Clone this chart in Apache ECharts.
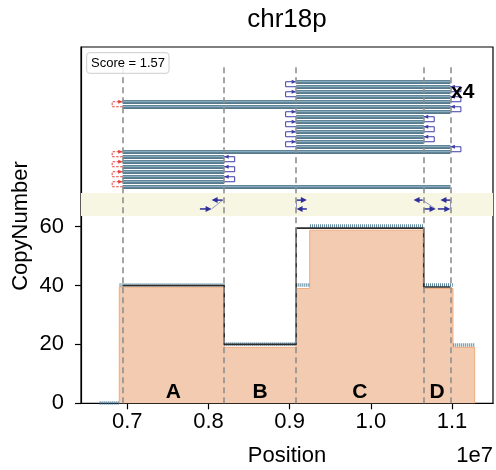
<!DOCTYPE html>
<html><head><meta charset="utf-8">
<script src="https://cdn.jsdelivr.net/npm/echarts@6/dist/echarts.min.js"></script>
<style>html,body{margin:0;padding:0;background:#fff}#c{width:496px;height:470px}</style>
</head><body><div id="c"></div>
<script>
// ---------------- data ----------------
const xTicks = [7e6, 8e6, 9e6, 10e6, 11e6];
const yTicks = [0, 20, 40, 60];
const breakpoints = [6.9434e6, 8.1938e6, 9.080e6, 10.6517e6, 10.980e6];
const regionNames = ['A', 'B', 'C', 'D'];
const modelCN = [40, 20, 59.5, 39.5];
// observed depth (orange fill) segment boundaries and levels
const depthEdges = [6.9015e6, 8.1938e6, 9.080e6, 9.247e6, 10.6517e6, 11.012e6, 11.279e6];
const depthLevels = [39.5, 19, 39, 58.8, 39, 19];
// scattered read-depth points (dense dots) as runs
const dotRunStart = [6.66e6, 6.905e6, 8.195e6, 9.082e6, 9.250e6, 10.655e6, 11.015e6];
const dotRunEnd   = [6.90e6, 8.200e6, 9.080e6, 9.245e6, 10.650e6, 11.010e6, 11.275e6];
const dotRunLevel = [0.3, 40.4, 20.2, 40.3, 60.3, 40.2, 20.0];
// path rows (top to bottom): start, end
const pathStart = [9.080e6, 9.080e6, 9.080e6, 9.080e6, 6.9434e6, 6.9434e6, 9.080e6,
  9.080e6, 9.080e6, 9.080e6, 9.080e6, 9.080e6, 9.080e6, 9.080e6, 6.9434e6,
  6.9434e6, 6.9434e6, 6.9434e6, 6.9434e6, 6.9434e6, 6.9434e6, 6.9434e6];
const pathEnd = [10.980e6, 10.980e6, 10.980e6, 10.980e6, 10.980e6, 10.980e6, 10.980e6,
  10.6517e6, 10.6517e6, 10.6517e6, 10.6517e6, 10.6517e6, 10.6517e6, 10.980e6, 10.980e6,
  8.1938e6, 8.1938e6, 8.1938e6, 8.1938e6, 8.1938e6, 8.1938e6, 10.980e6];
// junction arrows: tail, head, lane (0 top, 1 bottom)
const arrowTail = [8.174e6, 7.895e6, 9.085e6, 9.212e6, 10.637e6, 10.649e6, 10.980e6, 10.825e6];
const arrowHead = [8.039e6, 8.039e6, 9.212e6, 9.085e6, 10.526e6, 10.797e6, 10.857e6, 10.980e6];
const arrowLane = [0, 1, 0, 1, 0, 1, 0, 1];
const scoreText = 'Score = 1.57';
const multiplicity = 'x4';

// ---------------- layout constants ----------------
const X_MIN = 6.4302e6, X_MAX = 11.5047e6, Y_MAX = 121.0;
const ROW_TOP = 109.2, ROW_STEP = 1.698;
const LANE_Y = [69.0, 66.0];
const BAND = [63.6, 71.4];
const DASH_TOP = 115.2;
const LABEL_Y = 3.8;

const rowY = i => ROW_TOP - ROW_STEP * i;

const fillData = [[depthEdges[0], 0]];
depthLevels.forEach((lv, i) => { fillData.push([depthEdges[i], lv]); fillData.push([depthEdges[i + 1], lv]); });
fillData.push([depthEdges[depthEdges.length - 1], 0]);

const modelData = [];
modelCN.forEach((cn, i) => { modelData.push([breakpoints[i], cn]); modelData.push([breakpoints[i + 1], cn]); });

const dotData = dotRunStart.map((s, i) => ({ coords: [[s, dotRunLevel[i]], [dotRunEnd[i], dotRunLevel[i]]] }));
const barData = pathStart.map((s, i) => ({ coords: [[s, rowY(i)], [pathEnd[i], rowY(i)]] }));
const bracketData = [];
for (let i = 0; i < pathStart.length - 1; i++) {
  const left = i % 2 === 0;
  const x = left ? pathStart[i] : pathEnd[i];
  const red = left && x === breakpoints[0] ? 1 : 0;
  bracketData.push([x, rowY(i), rowY(i + 1), left ? -1 : 1, red]);
}
const arrowData = arrowTail.map((t, i) => [t, arrowHead[i], LANE_Y[arrowLane[i]]]);
const connData = [];
for (let i = 0; i < arrowTail.length; i += 2) {
  connData.push({ coords: [[arrowTail[i], LANE_Y[0]], [arrowHead[i + 1], LANE_Y[1]]] });
}
const dashData = breakpoints.map(b => ({ coords: [[b, 0], [b, DASH_TOP]] }));
const labelData = regionNames.map((n, i) => ({ name: n, value: [(breakpoints[i] + breakpoints[i + 1]) / 2, LABEL_Y] }));

const FONT = 'Liberation Sans, Arial, sans-serif';
const chart = echarts.init(document.getElementById('c'), null, { renderer: 'canvas' });

function renderBracket(params, api) {
  const x = api.value(0), yU = api.value(1), yL = api.value(2), side = api.value(3), red = api.value(4);
  const pU = api.coord([x, yU]), pL = api.coord([x, yL]);
  const off = side * 10.5;
  const color = red ? '#e8413c' : '#3d3da8';
  return { type: 'group', children: [
    { type: 'polyline', shape: { points: [[pL[0], pL[1]], [pL[0] + off, pL[1]], [pU[0] + off, pU[1]], [pU[0], pU[1]]] },
      style: { stroke: color, fill: null, lineWidth: 1, lineDash: red ? [2.5, 1.5] : null } },
    { type: 'polygon', shape: { points: [[pU[0], pU[1]], [pU[0] + side * 4.5, pU[1] - 2], [pU[0] + side * 4.5, pU[1] + 2]] },
      style: { fill: color } }
  ] };
}
function renderArrow(params, api) {
  const p1 = api.coord([api.value(0), api.value(2)]), p2 = api.coord([api.value(1), api.value(2)]);
  const dir = p2[0] > p1[0] ? 1 : -1;
  const L = 6, W = 3;
  const color = '#2e2e9a';
  return { type: 'group', children: [
    { type: 'line', shape: { x1: p1[0], y1: p1[1], x2: p2[0] - dir * L * 0.6, y2: p2[1] }, style: { stroke: color, lineWidth: 1.5 } },
    { type: 'polygon', shape: { points: [[p2[0], p2[1]], [p2[0] - dir * L, p2[1] - W], [p2[0] - dir * L, p2[1] + W]] }, style: { fill: color } }
  ] };
}

chart.setOption({
  animation: false,
  grid: { left: 81, right: 3, top: 47, bottom: 66.7, show: true, borderColor: '#000', borderWidth: 1.2, backgroundColor: 'transparent' },
  xAxis: {
    type: 'value', min: X_MIN, max: X_MAX,
    axisLine: { show: true, lineStyle: { color: '#000', width: 1.2 } },
    axisTick: { show: true, customValues: xTicks, length: 6, lineStyle: { color: '#000', width: 1.2 } },
    axisLabel: { customValues: xTicks, formatter: v => (v / 1e7).toFixed(1), fontSize: 22, color: '#000', fontFamily: FONT, margin: 8 },
    splitLine: { show: false }
  },
  yAxis: {
    type: 'value', min: 0, max: Y_MAX,
    axisLine: { show: true, lineStyle: { color: '#000', width: 1.2 } },
    axisTick: { show: true, customValues: yTicks, length: 6, lineStyle: { color: '#000', width: 1.2 } },
    axisLabel: { customValues: yTicks, fontSize: 22, color: '#000', fontFamily: FONT, margin: 17 },
    splitLine: { show: false }
  },
  graphic: [
    { type: 'text', x: 287, y: 20, style: { text: 'chr18p', font: '26px ' + FONT, fill: '#000', textAlign: 'center', textVerticalAlign: 'middle' } },
    { type: 'text', x: 21, y: 226, rotation: Math.PI / 2, style: { text: 'CopyNumber', font: '22px ' + FONT, fill: '#000', textAlign: 'center', textVerticalAlign: 'middle' } },
    { type: 'text', x: 287, y: 456, style: { text: 'Position', font: '22px ' + FONT, fill: '#000', textAlign: 'center', textVerticalAlign: 'middle' } },
    { type: 'text', x: 493, y: 456, style: { text: '1e7', font: '22px ' + FONT, fill: '#000', textAlign: 'right', textVerticalAlign: 'middle' } },
    { type: 'rect', z: 100, shape: { x: 86.7, y: 52.7, width: 82.3, height: 20.6, r: 3 }, style: { fill: 'rgba(255,255,255,0.85)', stroke: '#cccccc', lineWidth: 1 } },
    { type: 'text', z: 101, x: 91, y: 63.2, style: { text: scoreText, font: '13px ' + FONT, fill: '#000', textVerticalAlign: 'middle' } },
    { type: 'text', z: 101, x: 451, y: 92, style: { text: multiplicity, font: 'bold 21px ' + FONT, fill: '#000', textVerticalAlign: 'middle' } }
  ],
  series: [
    { type: 'line', z: 1, data: fillData, symbol: 'none', lineStyle: { color: '#f0ac80', width: 1 },
      areaStyle: { color: '#f2cbb0', opacity: 1 },
      markArea: { silent: true, itemStyle: { color: '#f6f6e2' }, data: [[{ yAxis: BAND[0] }, { yAxis: BAND[1] }]] } },
    { type: 'lines', coordinateSystem: 'cartesian2d', z: 2, data: dotData,
      lineStyle: { color: '#4d7a95', width: 3.5, type: [1, 1], opacity: 0.9 } },
    { type: 'line', z: 3, data: modelData, symbol: 'none', lineStyle: { color: '#2d2d2d', width: 1.6 } },
    { type: 'lines', coordinateSystem: 'cartesian2d', z: 4, data: barData, lineStyle: { color: '#57798b', width: 4, opacity: 1 } },
    { type: 'lines', coordinateSystem: 'cartesian2d', z: 5, data: barData, lineStyle: { color: '#86abbf', width: 1.4, opacity: 1 } },
    { type: 'custom', z: 6, renderItem: renderBracket, data: bracketData },
    { type: 'lines', coordinateSystem: 'cartesian2d', z: 6, data: connData, lineStyle: { color: '#5b5bb0', width: 0.8, opacity: 0.8 } },
    { type: 'custom', z: 6, renderItem: renderArrow, data: arrowData },
    { type: 'lines', coordinateSystem: 'cartesian2d', z: 7, data: dashData, lineStyle: { color: '#8f8f8f', width: 1.6, type: [6, 4], opacity: 1 } },
    { type: 'scatter', z: 8, data: labelData, symbolSize: 0, itemStyle: { opacity: 1 },
      label: { show: true, position: 'inside', formatter: p => p.name, fontSize: 21, fontWeight: 'bold', color: '#000', fontFamily: FONT, opacity: 1 } }
  ]
});
</script></body></html>
